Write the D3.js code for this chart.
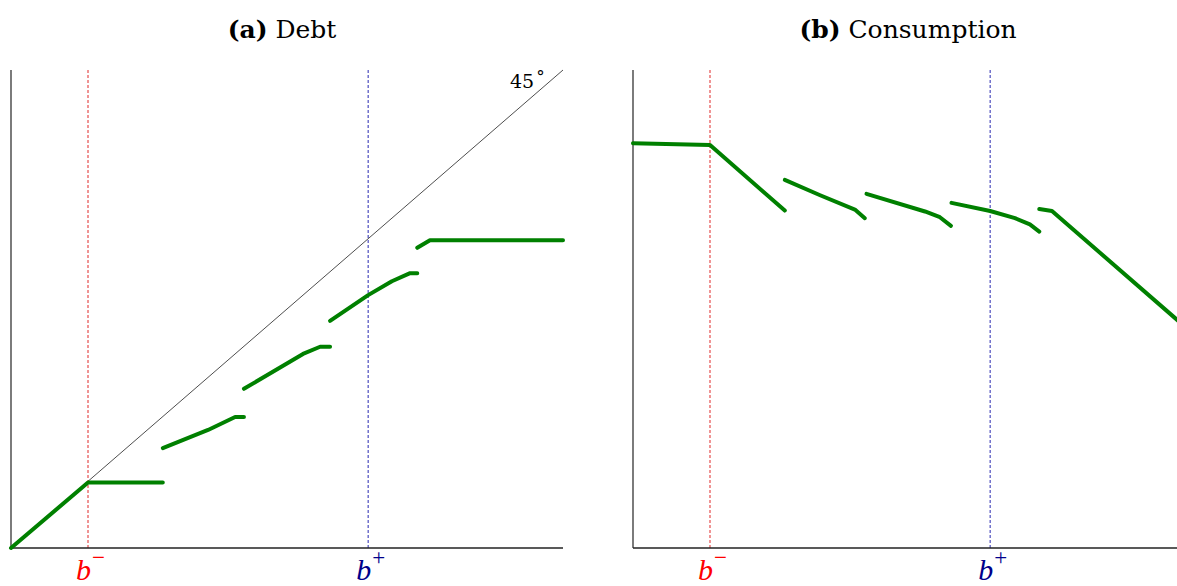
<!DOCTYPE html>
<html>
<head>
<meta charset="utf-8">
<script src="https://cdn.jsdelivr.net/npm/d3@7"></script>
<style>
  body { margin: 0; background: white; }
  svg { display: block; }
  .title { font-family: "DejaVu Serif", serif; font-size: 25px; }
  .tick-lbl { font-family: "Liberation Serif", serif; font-style: italic; font-size: 30px; }
  .deg-lbl { font-family: "DejaVu Serif", serif; font-size: 19px; }
</style>
</head>
<body>
<svg id="chart" width="1177" height="586"></svg>
<script>
// thresholds on the x axis
var bMinus = 0.1395;
var bPlus = 0.647;

// debt policy, one array of [x, y] per piece
var debtSegments = [
  [[0, 0], [0.1395, 0.137], [0.275, 0.137]],
  [[0.275, 0.209], [0.357, 0.247], [0.406, 0.274], [0.422, 0.274]],
  [[0.422, 0.333], [0.529, 0.406], [0.560, 0.421], [0.578, 0.421]],
  [[0.578, 0.475], [0.647, 0.529], [0.690, 0.558], [0.723, 0.575], [0.736, 0.575]],
  [[0.736, 0.628], [0.759, 0.644], [1.0, 0.644]]
];

// consumption policy
var consSegments = [
  [[0, 0.847], [0.1395, 0.843], [0.275, 0.706]],
  [[0.275, 0.770], [0.339, 0.738], [0.402, 0.708], [0.420, 0.690]],
  [[0.423, 0.741], [0.529, 0.704], [0.556, 0.692], [0.576, 0.674]],
  [[0.577, 0.722], [0.647, 0.705], [0.692, 0.690], [0.719, 0.677], [0.736, 0.662]],
  [[0.736, 0.709], [0.759, 0.705], [1.0, 0.463]]
];

var panelW = 552, panelH = 478;
var svg = d3.select("#chart");

function addPanel(x0, y0, titleX, label, name, segs, diag) {
  var g = svg.append("g").attr("transform", "translate(" + x0 + "," + y0 + ")");
  var x = d3.scaleLinear().domain([0, 1]).range([0, panelW]);
  var y = d3.scaleLinear().domain([0, 1]).range([panelH, 0]);

  // title
  var t = svg.append("text")
    .attr("class", "title")
    .attr("x", titleX)
    .attr("y", 38)
    .attr("text-anchor", "middle");
  t.append("tspan").attr("font-weight", "bold").text(label);
  t.append("tspan").text(" " + name);

  // threshold lines
  g.append("line")
    .attr("x1", x(bMinus)).attr("x2", x(bMinus))
    .attr("y1", y(0)).attr("y2", y(1))
    .attr("stroke", "#e02828").attr("stroke-width", 1)
    .attr("stroke-dasharray", "3,2");
  g.append("line")
    .attr("x1", x(bPlus)).attr("x2", x(bPlus))
    .attr("y1", y(0)).attr("y2", y(1))
    .attr("stroke", "#2828b0").attr("stroke-width", 1)
    .attr("stroke-dasharray", "3,2");

  if (diag) {
    g.append("line")
      .attr("x1", x(0)).attr("y1", y(0))
      .attr("x2", x(1)).attr("y2", y(1))
      .attr("stroke", "#000").attr("stroke-width", 0.7);
    g.append("text")
      .attr("class", "deg-lbl")
      .attr("x", x(1) - 53).attr("y", y(1) + 18)
      .text("45")
      .append("tspan").attr("dx", 2).attr("dy", -6).attr("font-size", 17).text("\u00b0");
  }

  // axes, left and bottom only
  g.append("line")
    .attr("x1", x(0)).attr("x2", x(0)).attr("y1", y(0)).attr("y2", y(1))
    .attr("stroke", "#444").attr("stroke-width", 1.4);
  g.append("line")
    .attr("x1", x(0)).attr("x2", x(1)).attr("y1", y(0)).attr("y2", y(0))
    .attr("stroke", "#222").attr("stroke-width", 1.4);

  var line = d3.line().x(d => x(d[0])).y(d => y(d[1]));
  g.selectAll("path.seg")
    .data(segs)
    .enter()
    .append("path")
    .attr("class", "seg")
    .attr("d", line)
    .attr("fill", "none")
    .attr("stroke", "#008000")
    .attr("stroke-width", 4)
    .attr("stroke-linecap", "round")
    .attr("stroke-linejoin", "round");

  // tick labels b- and b+
  var ticks = [[bMinus, "\u2212", "#ff0000"], [bPlus, "+", "#00008b"]];
  ticks.forEach(function(tk) {
    var tx = g.append("text")
      .attr("class", "tick-lbl")
      .attr("x", x(tk[0]) - 12)
      .attr("y", panelH + 32)
      .attr("fill", tk[2])
      .text("b");
    tx.append("tspan")
      .attr("dx", 1)
      .attr("dy", -15)
      .attr("font-style", "normal")
      .attr("font-size", 23)
      .text(tk[1]);
  });
}

addPanel(11, 70, 282, "(a)", "Debt", debtSegments, true);
addPanel(633, 70, 908, "(b)", "Consumption", consSegments, false);
</script>
</body>
</html>
